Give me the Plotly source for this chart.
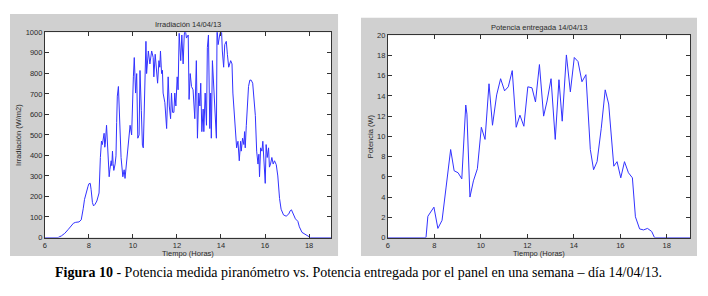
import plotly.graph_objects as go

# ---------------- data ----------------
irr_hours = [6.0, 6.6, 6.75, 6.9, 7.05, 7.2, 7.3, 7.4, 7.55, 7.65, 7.68, 7.74, 7.8, 7.86, 7.9, 7.96,
             8.0, 8.06, 8.1, 8.16, 8.21, 8.28, 8.36, 8.42, 8.46, 8.52, 8.57, 8.61, 8.65, 8.69, 8.72,
             8.74, 8.8, 8.83, 8.86, 8.92, 8.95, 9.01, 9.04, 9.07, 9.1, 9.13, 9.19, 9.23, 9.26, 9.29,
             9.34, 9.38, 9.42, 9.46, 9.54, 9.6, 9.64, 9.72, 9.76, 9.79, 9.84, 9.87, 9.94, 9.98,
             10.02, 10.06, 10.12, 10.17, 10.22, 10.28, 10.32, 10.38, 10.43, 10.47, 10.55, 10.59,
             10.62, 10.7, 10.77, 10.85, 10.92, 10.95, 11.01, 11.07, 11.12, 11.18, 11.22, 11.25,
             11.3, 11.34, 11.37, 11.45, 11.53, 11.6, 11.65, 11.71, 11.75, 11.8, 11.86, 11.9, 11.95,
             12.01, 12.05, 12.1, 12.13, 12.17, 12.22, 12.28, 12.33, 12.37, 12.43, 12.51, 12.55,
             12.6, 12.66, 12.73, 12.81, 12.88, 12.93, 12.99, 13.04, 13.08, 13.13, 13.19, 13.22,
             13.28, 13.34, 13.38, 13.43, 13.49, 13.53, 13.56, 13.61, 13.68, 13.74, 13.79, 13.82,
             13.87, 13.94, 14.02, 14.06, 14.12, 14.17, 14.24, 14.29, 14.35, 14.44, 14.5, 14.54,
             14.59, 14.65, 14.71, 14.77, 14.83, 14.89, 14.92, 14.98, 15.04, 15.07, 15.1, 15.15,
             15.19, 15.25, 15.31, 15.37, 15.44, 15.5, 15.56, 15.62, 15.68, 15.72, 15.75, 15.8,
             15.86, 15.9, 15.95, 16.01, 16.05, 16.1, 16.16, 16.2, 16.25, 16.31, 16.37, 16.43,
             16.51, 16.58, 16.66, 16.73, 16.84, 16.96, 17.08, 17.14, 17.2, 17.29, 17.38, 17.49,
             17.56, 17.68, 17.84, 17.99, 18.06, 19.0]
irr_values = [0, 0, 8, 20, 38, 56, 70, 74, 76, 86, 99, 140, 186, 215, 225, 250,
              262, 264, 233, 170, 154, 162, 178, 200, 217, 390, 470, 453, 490, 508, 440,
              453, 547, 470, 406, 296, 330, 374, 350, 421, 360, 327, 358, 398, 560, 689,
              736, 610, 470, 390, 296, 330, 288, 390, 420, 437, 520, 547, 500, 700,
              783, 877, 704, 799, 484, 500, 814, 620, 450, 437, 830, 956,
              799, 909, 846, 909, 877, 783, 893, 799, 752, 862, 830, 909,
              799, 815, 704, 657, 531, 783, 641, 579, 704, 610, 610, 704, 641,
              783, 720, 995, 956, 862, 987, 846, 987, 1020, 972, 987, 673,
              799, 736, 720, 579, 862, 484, 704, 641, 752, 516, 626, 516,
              704, 547, 925, 987, 531, 704, 484, 862, 700, 560, 484, 1020,
              940, 987, 1020, 909, 830, 940, 956, 893, 830, 862, 846, 704,
              626, 547, 437, 469, 374, 469, 421, 484, 453, 516, 437, 547,
              610, 736, 767, 767, 752, 689, 594, 421, 358, 406, 296, 437,
              421, 469, 358, 264, 453, 390, 437, 343, 358, 390, 358, 374,
              355, 300, 190, 138, 110, 104, 115, 130, 135, 115, 91, 79,
              52, 25, 13, 2, 0, 0]

pot_hours = [6.0, 7.64, 7.72, 7.98, 8.15, 8.33, 8.5, 8.7, 8.85, 9.02, 9.18, 9.28, 9.35, 9.4,
             9.53, 9.68, 9.85, 10.02, 10.18, 10.35, 10.5, 10.68, 10.85, 11.02, 11.18, 11.35,
             11.52, 11.68, 11.85, 12.02, 12.2, 12.35, 12.52, 12.7, 12.85, 13.02, 13.2, 13.36,
             13.5, 13.68, 13.85, 14.02, 14.18, 14.35, 14.52, 14.71, 14.85, 15.0, 15.18, 15.35,
             15.5, 15.72, 15.86, 16.02, 16.18, 16.35, 16.52, 16.65, 16.83, 17.0, 17.17, 17.35,
             17.47, 19.0]
pot_values = [0, 0, 2.1, 3.0, 0.9, 1.7, 4.9, 8.7, 6.6, 6.4, 5.8, 10.0, 13.1, 12.2,
              4.0, 5.6, 6.8, 10.9, 9.7, 15.2, 11.1, 14.1, 15.7, 14.5, 14.9, 16.5,
              10.9, 12.1, 11.0, 14.9, 14.8, 13.4, 17.1, 12.0, 13.5, 15.7, 9.7, 15.6,
              11.5, 18.05, 14.4, 17.8, 17.4, 15.4, 16.1, 8.7, 6.7, 7.5, 10.8, 14.6,
              13.2, 7.05, 7.5, 5.9, 7.5, 6.4, 5.9, 2.05, 0.85, 0.75, 0.9, 0.6,
              0, 0]

x_ticks = [6, 8, 10, 12, 14, 16, 18]
irr_ticks = list(range(0, 1001, 100))
pot_ticks = list(range(0, 21, 2))

titles = ["Irradiación 14/04/13", "Potencia entregada 14/04/13"]
ylabels = ["Irradiación (W/m2)", "Potencia (W)"]
xlabel = "Tiempo (Horas)"
caption = ("<b>Figura 10</b> - Potencia medida piranómetro vs. Potencia entregada por el panel "
           "en una semana – día 14/04/13.")

# ---------------- layout ----------------
# The page body has an 8px margin on every side; size the figure so that
# body margin + figure fits the 708x296 window exactly, and work in
# window pixels.
OFF = 8
W, H = 708 - 2 * OFF, 296 - 2 * OFF


def px(x):
    return (x - OFF) / W


def py(y):
    return 1 - (y - OFF) / H


LINE = "rgb(50,50,255)"
AX = "#333333"
TICKFONT = dict(family="Liberation Sans, Arial, sans-serif", size=7.5, color="#2a2a2a")
LABFONT = dict(family="Liberation Sans, Arial, sans-serif", size=7.5, color="#2a2a2a")
GRAY = "#d0d0d0"

fig = go.Figure()
fig.add_trace(go.Scatter(x=irr_hours, y=irr_values, mode="lines",
                         line=dict(color=LINE, width=1), xaxis="x", yaxis="y",
                         showlegend=False))
fig.add_trace(go.Scatter(x=pot_hours, y=pot_values, mode="lines",
                         line=dict(color=LINE, width=1), xaxis="x2", yaxis="y2",
                         showlegend=False))

# plot area pixel boxes (left, top, right, bottom) in window pixels
L = (43, 29, 330, 241)
R = (387, 32, 690, 241)


def xaxis(box, anchor):
    return dict(domain=[px(box[0]), px(box[2])], range=[6, 19], tickvals=x_ticks,
                ticks="inside", ticklen=4, tickcolor=AX, showline=True, linecolor=AX,
                linewidth=1, mirror="allticks", showgrid=False, zeroline=False,
                tickfont=TICKFONT, anchor=anchor, fixedrange=True)


def yaxis(box, anchor, rng, tv):
    return dict(domain=[py(box[3]), py(box[1])], range=rng, tickvals=tv,
                ticks="inside", ticklen=4, tickcolor=AX, showline=True, linecolor=AX,
                linewidth=1, mirror="allticks", showgrid=False, zeroline=False,
                tickfont=TICKFONT, anchor=anchor, fixedrange=True)


shapes = [
    dict(type="rect", xref="paper", yref="paper", x0=px(8), x1=px(337), y0=py(260), y1=py(10),
         fillcolor=GRAY, line=dict(width=0), layer="below"),
    dict(type="rect", xref="paper", yref="paper", x0=px(360), x1=px(697), y0=py(260), y1=py(14),
         fillcolor=GRAY, line=dict(width=0), layer="below"),
    dict(type="rect", xref="paper", yref="paper", x0=px(L[0]), x1=px(L[2]), y0=py(L[3]), y1=py(L[1]),
         fillcolor="white", line=dict(width=0), layer="below"),
    dict(type="rect", xref="paper", yref="paper", x0=px(R[0]), x1=px(R[2]), y0=py(R[3]), y1=py(R[1]),
         fillcolor="white", line=dict(width=0), layer="below"),
]

annotations = [
    dict(text=titles[0], x=px((L[0] + L[2]) / 2), y=py(21), xref="paper", yref="paper",
         showarrow=False, font=LABFONT, xanchor="center", yanchor="middle"),
    dict(text=titles[1], x=px((R[0] + R[2]) / 2), y=py(24), xref="paper", yref="paper",
         showarrow=False, font=LABFONT, xanchor="center", yanchor="middle"),
    dict(text=ylabels[0], x=px(17), y=py((L[1] + L[3]) / 2), xref="paper", yref="paper",
         showarrow=False, font=LABFONT, textangle=-90, xanchor="center", yanchor="middle"),
    dict(text=ylabels[1], x=px(369), y=py((R[1] + R[3]) / 2), xref="paper", yref="paper",
         showarrow=False, font=LABFONT, textangle=-90, xanchor="center", yanchor="middle"),
    dict(text=xlabel, x=px((L[0] + L[2]) / 2), y=py(257.5), xref="paper", yref="paper",
         showarrow=False, font=LABFONT, xanchor="center", yanchor="middle"),
    dict(text=xlabel, x=px((R[0] + R[2]) / 2), y=py(257.5), xref="paper", yref="paper",
         showarrow=False, font=LABFONT, xanchor="center", yanchor="middle"),
    dict(text=caption, x=px(358), y=py(277), xref="paper", yref="paper",
         showarrow=False, xanchor="center", yanchor="middle",
         font=dict(family="Liberation Serif, Times New Roman, serif", size=14, color="black")),
]

fig.update_layout(
    width=W, height=H, autosize=False,
    margin=dict(l=0, r=0, t=0, b=0),
    paper_bgcolor="white", plot_bgcolor="rgba(0,0,0,0)",
    xaxis=xaxis(L, "y"), yaxis=yaxis(L, "x", [0, 1000], irr_ticks),
    xaxis2=xaxis(R, "y2"), yaxis2=yaxis(R, "x2", [0, 20], pot_ticks),
    shapes=shapes, annotations=annotations, showlegend=False,
)

fig.write_html("out.html")
